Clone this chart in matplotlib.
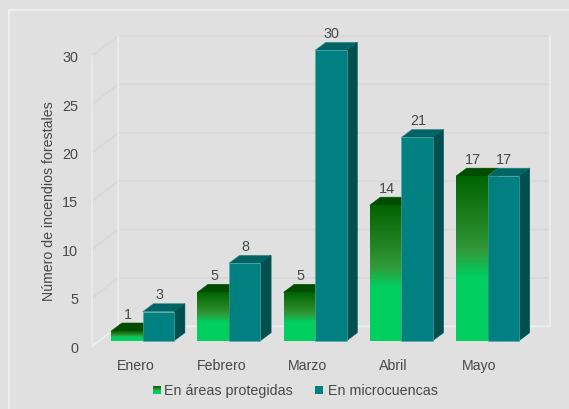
import numpy as np
import matplotlib
matplotlib.use("Agg")
import matplotlib.pyplot as plt
from matplotlib.colors import LinearSegmentedColormap
from matplotlib.patches import Polygon, Rectangle

categories = ["Enero", "Febrero", "Marzo", "Abril", "Mayo"]
protegidas = [1, 5, 5, 14, 17]
microcuencas = [3, 8, 30, 21, 17]
y_ticks = [0, 5, 10, 15, 20, 25, 30]
series_names = ["En áreas protegidas", "En microcuencas"]
y_title = "Número de incendios forestales"

BG = "#e0e0e0"
TXT = "#484848"
GRID = "#d9d9d9"
WALL = "#eeeeee"
TEAL, TEAL_TOP, TEAL_SIDE = "#008080", "#006464", "#005050"
GREEN_TOP = "#004d00"
BORDER = "#5fa8a8"

W, H = 569, 409
plt.rcParams["font.family"] = ["Liberation Sans", "DejaVu Sans"]
fig = plt.figure(figsize=(W / 100, H / 100), dpi=100, facecolor=BG)

# data axes: x in category units, y in incident counts, on the bars' front plane
X0, PX_PER_CAT = 142.7, 86.2      # pixel of first category centre, pixels per category
Y0, PX_PER_VAL = 340.7, 9.68      # pixel of value 0, pixels per unit
ax = fig.add_axes([0, 0, 1, 1])
ax.axis("off")
ux, uy = 1 / PX_PER_CAT, 1 / PX_PER_VAL   # data units per pixel


def set_limits():
    ax.set_xlim(-X0 * ux, (W - X0) * ux)
    ax.set_ylim(-(H - Y0) * uy, Y0 * uy)


def px(x):
    return (x - X0) * ux


def py(y):
    return (Y0 - y) * uy


set_limits()

# outer frame, running off the right and bottom of the picture
ax.add_patch(Rectangle((px(9), py(H + 40)), (W + 40) * ux, (H + 30) * uy,
                       fill=False, ec="#f0f0f0", lw=1.3, zorder=0.5))

xf, xb, xr = px(92), px(118), px(549.5)
front_dy, back_dy = py(346.4), py(326.4)
top = max(y_ticks)

for v in y_ticks[1:]:
    ax.plot([xf, xb, xr], [v + front_dy, v + back_dy, v + back_dy], color=GRID, lw=1.3, zorder=1,
            solid_joinstyle="miter")
ax.plot([xf, xf], [front_dy, top + front_dy], color=WALL, lw=1.1, zorder=1.2)
ax.plot([xb, xb], [back_dy, top + back_dy], color=WALL, lw=1.1, zorder=1.2)
ax.plot([xr, xr], [back_dy, top + back_dy], color=WALL, lw=1.3, zorder=1.2)
ax.plot([xf, xb, xr], [front_dy, back_dy, back_dy], color=WALL, lw=1.3, zorder=1.2)

# tick labels and axis title
for v in y_ticks:
    ax.text(px(78), v + py(348.6), str(v), ha="right", va="center", fontsize=10.4, color=TXT)
for i, c in enumerate(categories):
    ax.text(px(135.8 + 85.8 * i), py(366.2), c, ha="center", va="center", fontsize=10.2, color=TXT)
ax.text(px(48.5), py(201.5), y_title, rotation=90, ha="center", va="center",
        fontsize=10.2, color=TXT)

# gradient for the green series
cmap = LinearSegmentedColormap.from_list(
    "g", [(0, "#006400"), (0.24, "#1c7d1c"), (0.45, "#32993a"), (0.61, "#00d060"), (1, "#00d060")])
grad = np.linspace(0, 1, 256).reshape(-1, 1)

bw = 31.5 * ux
dx, dy = 10.7 * ux, 8 * uy


def box(x, v, z, top_c, side_c, edge):
    ax.add_patch(Polygon([(x, v), (x + dx, v + dy), (x + bw + dx, v + dy), (x + bw, v)],
                         fc=top_c, ec=edge, lw=0.4, zorder=z))
    ax.add_patch(Polygon([(x + bw, 0), (x + bw + dx, dy), (x + bw + dx, v + dy), (x + bw, v)],
                         fc=side_c, ec=side_c, lw=0.4, zorder=z))


for i, (a, b) in enumerate(zip(protegidas, microcuencas)):
    xa = i - bw
    box(xa, a, 3 + i * 0.1, GREEN_TOP, GREEN_TOP, GREEN_TOP)
    ax.bar(xa, a, width=bw, align="edge", color="none", zorder=3.02 + i * 0.1)
    ax.imshow(grad, extent=[xa, xa + bw, 0, a], aspect="auto", cmap=cmap, vmin=0, vmax=1,
              origin="upper", zorder=3.03 + i * 0.1)
    box(i, b, 3.05 + i * 0.1, TEAL_TOP, TEAL_SIDE, "#3f8f8f")
    ax.bar(i, b, width=bw, align="edge", color=TEAL, ec=BORDER, lw=0.4, zorder=3.06 + i * 0.1)
    ax.text(xa + bw / 2 + 1 * ux, a + dy + 1.2 * uy, str(a), ha="center", va="bottom",
            fontsize=10.4, color=TXT, zorder=6)
    ax.text(i + bw / 2 + 1 * ux, b + dy + 1.2 * uy, str(b), ha="center", va="bottom",
            fontsize=10.4, color=TXT, zorder=6)

# legend
ax.imshow(grad, extent=[px(153), px(161), py(394.3), py(386.3)],
          aspect="auto", cmap=cmap, vmin=0, vmax=1, origin="upper", zorder=5)
ax.add_patch(Rectangle((px(315.3), py(394.3)), 8 * ux, 8 * uy, fc=TEAL, ec="none", zorder=5))
ax.text(px(164), py(390.6), series_names[0], ha="left", va="center", fontsize=10.3, color=TXT)
ax.text(px(327.7), py(390.6), series_names[1], ha="left", va="center", fontsize=10.3, color=TXT)

set_limits()
fig.savefig("out.png", dpi=100, facecolor=BG)
